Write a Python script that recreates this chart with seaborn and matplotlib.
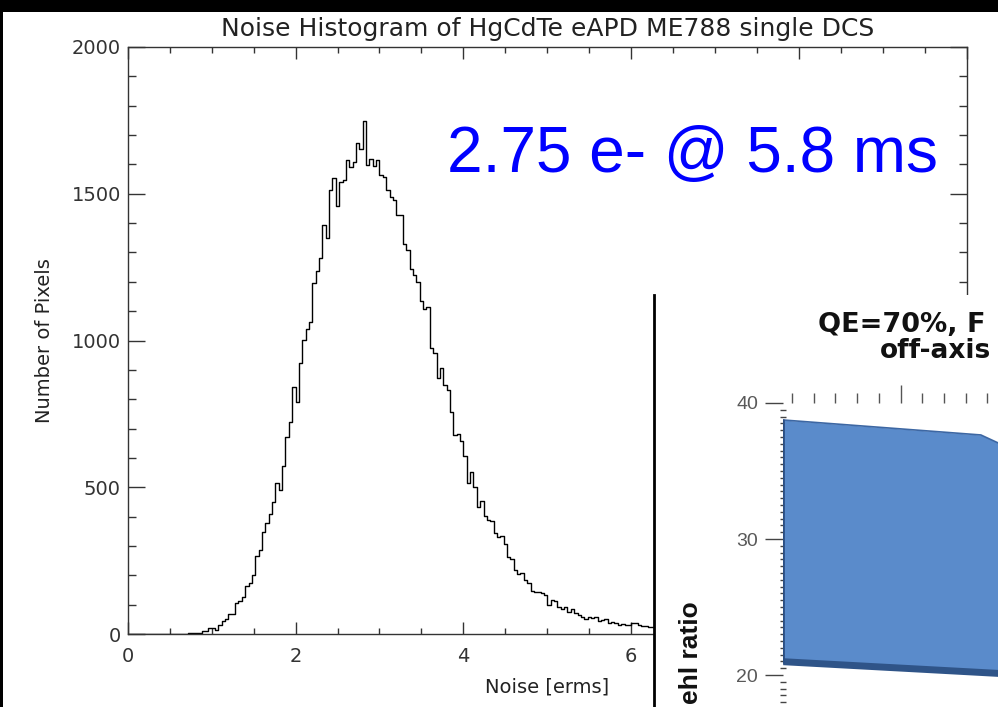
import numpy as np
import pandas as pd
import matplotlib
matplotlib.use("Agg")
import matplotlib.pyplot as plt
import seaborn as sns
from matplotlib.ticker import MultipleLocator, FixedLocator

# Histogram data (bin width 0.04 e- rms, bins starting at 0)
bin_width = 0.04
noise_counts = [
    0, 0, 0, 0, 0, 0, 0, 0, 0, 0, 0, 0, 0, 0, 0,            # 0.00 - 0.56
    0, 0, 0, 4, 3, 3, 3, 9, 9, 21,                          # 0.60 - 0.96
    21, 13, 31, 44, 50, 69, 69, 104, 114, 127,              # 1.00 - 1.36
    164, 173, 201, 267, 286, 346, 377, 409,                 # 1.40 - 1.68
    451, 513, 490, 572, 670, 723, 840, 791, 922,            # 1.72 - 2.04
    1002, 1038, 1062, 1197, 1238, 1280, 1393, 1348, 1513, 1553,
    1458, 1539, 1547, 1615, 1592, 1609, 1672, 1651, 1748, 1598,
    1617, 1595, 1615, 1564, 1556, 1513, 1488, 1479, 1427, 1427,
    1328, 1308, 1243, 1223, 1200, 1136, 1107, 1113, 974,    # 2.08 - 3.60
    957, 871, 908,                                          # 3.64 - 3.72
    848, 831, 755, 678, 681, 658, 606, 513, 553, 502,
    434, 454, 402, 388, 386, 343, 332, 334, 307, 263,
    254, 218, 204, 209, 184, 173, 148, 144, 142, 139,
    133, 99, 116, 112, 93, 84, 93, 76, 84, 70,
    65, 57, 50, 57, 53, 59, 45, 48, 50, 39,
    42, 36, 31, 33, 31, 31, 36, 36, 31, 27,
    27, 25, 25, 20,                                         # 3.76 - 6.28
]

# inset (Strehl ratio chart, partly visible)
bar_x = [-0.4, 8.7, 9.5]
bar_top = [38.75, 37.65, 37.06]
bar_bottom = [20.98, 20.19, 20.12]

edges = [round(i * bin_width, 2) for i in range(len(noise_counts) + 1)]
centers = [e + bin_width / 2 for e in edges[:-1]]
df = pd.DataFrame({"noise": centers, "count": noise_counts})

sns.set_style("ticks")
plt.rcParams["font.family"] = ["DejaVu Sans"]

W, H = 998, 707
def box(l, t, r, b):
    return [l / W, 1 - b / H, (r - l) / W, (b - t) / H]

fig = plt.figure(figsize=(W / 100, H / 100), dpi=100)
fig.patch.set_facecolor("black")

# white page
bg = fig.add_axes(box(3, 12, W, H))
bg.set_facecolor("white")
bg.set_xticks([])
bg.set_yticks([])
for s in bg.spines.values():
    s.set_visible(False)

# main histogram
ax = fig.add_axes(box(127.7, 47, 967, 634))
ax.set_facecolor("white")
sns.histplot(data=df, x="noise", weights="count", bins=edges, element="step",
             fill=False, color="black", linewidth=1, ax=ax)
ax.set_xlim(0, 10)
ax.set_ylim(0, 2000)
ax.xaxis.set_major_locator(MultipleLocator(2))
ax.xaxis.set_minor_locator(MultipleLocator(0.5))
ax.yaxis.set_major_locator(MultipleLocator(500))
ax.yaxis.set_minor_locator(MultipleLocator(100))
ax.tick_params(which="both", direction="in", top=True, right=True,
               color="#333333", width=1, labelcolor="#333333", labelsize=14)
ax.tick_params(axis="x", which="major", length=8.4, pad=9)
ax.tick_params(axis="x", which="minor", length=4.2)
ax.tick_params(axis="y", which="major", length=12, pad=5)
ax.tick_params(axis="y", which="minor", length=6)
for s in ax.spines.values():
    s.set_color("#333333")
    s.set_linewidth(1)
ax.set_title("Noise Histogram of HgCdTe eAPD ME788 single DCS",
             fontsize=18, color="#222222", pad=8)
ax.set_xlabel("Noise [erms]", fontsize=14, color="#222222")
ax.set_ylabel("Number of Pixels", fontsize=14, color="#222222")
ax.xaxis.set_label_coords(0.5, -0.074)
ax.yaxis.set_label_coords(-0.088, 0.5)

fig.text(447 / W, 1 - 172 / H, "2.75 e- @ 5.8 ms", fontsize=46,
         color="#0000ff", family="Liberation Sans", va="baseline", ha="left")

# pasted inset panel
panel = fig.add_axes(box(654, 295, W, H))
panel.set_facecolor("white")
panel.set_xticks([])
panel.set_yticks([])
for k, s in panel.spines.items():
    s.set_visible(k == "left")
panel.spines["left"].set_color("black")
panel.spines["left"].set_linewidth(2)

cax = fig.add_axes(box(783, 403, W, H))
cax.patch.set_alpha(0)
cax.set_xlim(-0.415, 9.49)
cax.set_ylim(17.65, 40)
cax.fill_between(bar_x, bar_bottom, bar_top, color="#5a8bcb", linewidth=0)
cax.plot(bar_x, bar_bottom, color="#2f5488", linewidth=5, solid_capstyle="butt")
cax.plot(bar_x, bar_top, color="#3d67a3", linewidth=1.2, solid_capstyle="butt")
cax.plot([bar_x[0], bar_x[0]], [bar_bottom[0], bar_top[0]], color="#2b4f84", linewidth=2)
for s in cax.spines.values():
    s.set_visible(False)
cax.xaxis.tick_top()
cax.xaxis.set_major_locator(FixedLocator([5, 10]))
cax.xaxis.set_minor_locator(MultipleLocator(1))
cax.tick_params(axis="x", which="major", direction="out", length=13, color="#555555",
                labeltop=False, width=1)
cax.tick_params(axis="x", which="minor", direction="out", length=7, color="#555555", width=1)
cax.yaxis.set_major_locator(FixedLocator([20, 30, 40]))
cax.yaxis.set_minor_locator(MultipleLocator(0.5))
cax.tick_params(axis="y", which="major", direction="out", length=13, color="#444444",
                labelcolor="#595959", labelsize=14, pad=5, width=1)
cax.tick_params(axis="y", which="minor", direction="inout", length=4, color="#444444", width=1)
for lab in cax.get_yticklabels():
    lab.set_family("Liberation Sans")

fig.text(818 / W, 1 - 332 / H, "QE=70%, F", fontsize=19.5, weight="bold",
         color="#111111", va="baseline", ha="left")
fig.text(880 / W, 1 - 358 / H, "off-axis", fontsize=19, weight="bold",
         color="#111111", va="baseline", ha="left")
fig.text(691 / W, 1 - 601 / H, "ehl ratio", fontsize=19, weight="bold",
         family="Liberation Sans", color="#111111", rotation=90,
         va="top", ha="center")

fig.savefig("out.png", dpi=100, facecolor=fig.get_facecolor())
